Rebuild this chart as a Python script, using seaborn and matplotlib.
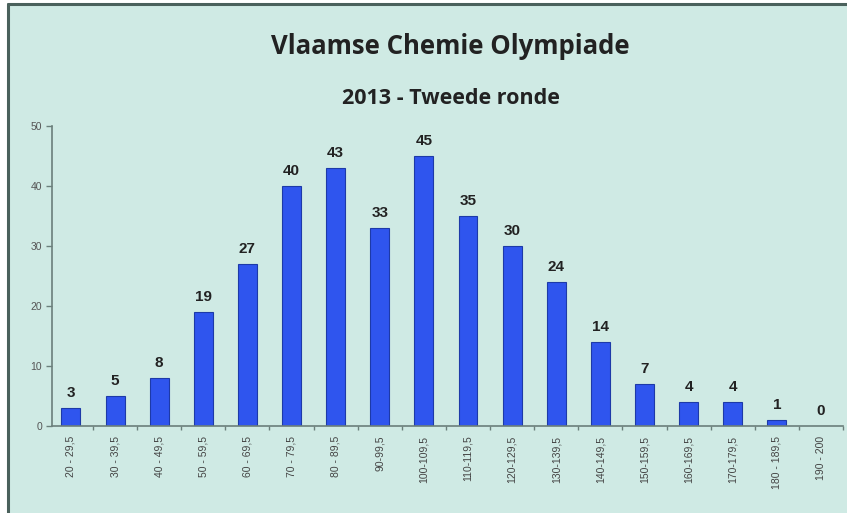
import matplotlib
matplotlib.use("Agg")
import matplotlib.pyplot as plt
import seaborn as sns
import pandas as pd
from matplotlib.patches import Rectangle
from matplotlib.lines import Line2D

categories = ["20 - 29,5", "30 - 39,5", "40 - 49,5", "50 - 59,5", "60 - 69,5",
              "70 - 79,5", "80 - 89,5", "90-99,5", "100-109,5", "110-119,5",
              "120-129,5", "130-139,5", "140-149,5", "150-159,5", "160-169,5",
              "170-179,5", "180 - 189,5", "190 - 200"]
counts = [3, 5, 8, 19, 27, 40, 43, 33, 45, 35, 30, 24, 14, 7, 4, 4, 1, 0]
yticks = [0, 10, 20, 30, 40, 50]
title = "Vlaamse Chemie Olympiade"
subtitle = "2013 - Tweede ronde"

sns.set_theme(style="white")
plt.rcParams['font.family'] = ['Liberation Sans', 'DejaVu Sans']
title_font = ['Open Sans', 'DejaVu Sans']

bg = "#cfeae4"
fig = plt.figure(figsize=(8.47, 5.13), dpi=100, facecolor="white")
# chart area background and border
fig.patches.append(Rectangle((8/847, 0), 1 - 8/847, 1 - 4/513, transform=fig.transFigure,
                             facecolor=bg, edgecolor="none", zorder=-5))
fig.lines.append(Line2D([8/847, 8/847], [0, 1 - 4/513], transform=fig.transFigure,
                        color="#4a615c", lw=2.2, zorder=1))
fig.lines.append(Line2D([8/847, 1], [1 - 4/513, 1 - 4/513], transform=fig.transFigure,
                        color="#4a615c", lw=2.2, zorder=1))

ax = fig.add_axes([52/847, 87/513, (843-52)/847, 300/513])
ax.set_facecolor("none")
df = pd.DataFrame({"cat": categories, "n": counts})
sns.barplot(data=df, x="cat", y="n", ax=ax, color="#2f55ee", saturation=1,
            width=0.43, edgecolor="#1d3aa8", linewidth=0.8)

ax.set_ylim(0, 50)
ax.set_xlim(-0.43, 17.47)
ax.set_yticks(yticks)
ax.set_yticklabels([str(t) for t in yticks], fontsize=7.5, color="#555555")
ax.set_xticks(range(len(categories)))
ax.set_xticklabels(categories, rotation=90, fontsize=7.5, color="#444444")
ax.set_xlabel("")
ax.set_ylabel("")

for s in ["top", "right"]:
    ax.spines[s].set_visible(False)
ax.spines["left"].set_color("#6b7f7b")
ax.spines["bottom"].set_color("#6b7f7b")
ax.spines["left"].set_linewidth(1.2)
ax.spines["bottom"].set_linewidth(1.2)
ax.tick_params(axis="y", direction="out", length=4, width=1, color="#6b7f7b", pad=3, left=True)
ax.tick_params(axis="x", length=0, pad=7)
# minor ticks between categories on x-axis
ax.set_xticks([i + 0.5 for i in range(len(categories))], minor=True)
ax.tick_params(axis="x", which="minor", direction="out", length=3, width=1, color="#6b7f7b", bottom=True)

for i, v in enumerate(counts):
    ax.text(i, v + 1.4, str(v), ha="center", va="bottom", fontsize=11,
            fontweight="bold", color="#222222")

fig.text(0.532, 1 - 46/513, title, ha="center", va="center", fontsize=18.5,
         fontweight="bold", color="#222222", family=title_font)
fig.text(0.532, 1 - 98/513, subtitle, ha="center", va="center", fontsize=15.5,
         fontweight="bold", color="#222222", family=title_font)

fig.savefig("out.png", dpi=100, facecolor=fig.get_facecolor())
